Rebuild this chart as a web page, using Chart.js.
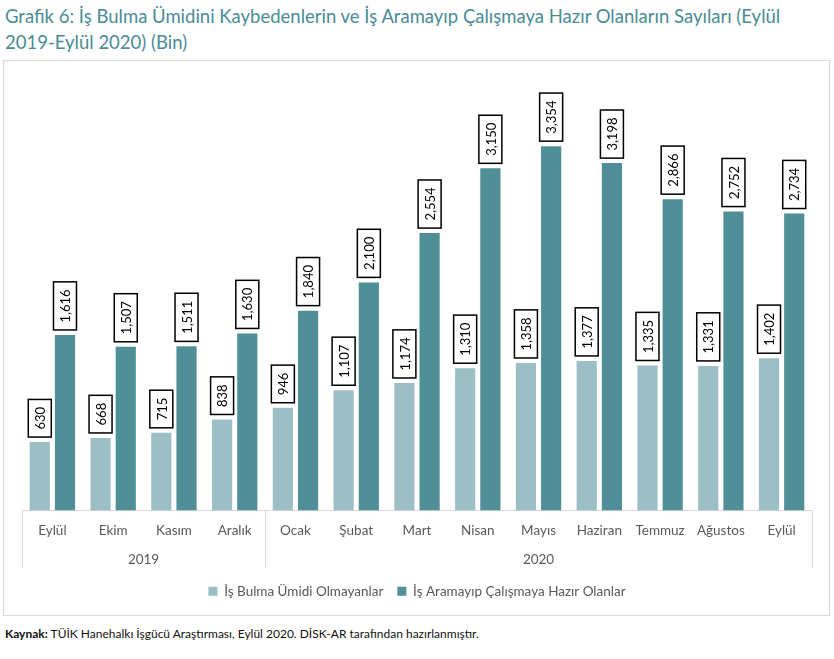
<!DOCTYPE html>
<html>
<head>
<meta charset="utf-8">
<script src="https://cdn.jsdelivr.net/npm/chart.js@4.4.0/dist/chart.umd.min.js"></script>
<style>
  body { margin: 0; background: #fff; font-family: Lato, sans-serif; }
  #title { position: absolute; left: 5px; top: 3px; width: 820px; color: #4a8c96; font-size: 18.5px; line-height: 26px; }
  #box { position: absolute; left: 3px; top: 60px; width: 825px; height: 554px; border: 1.5px solid #d9d9d9; }
  #src { position: absolute; left: 5px; top: 626px; font-size: 12px; color: #111; }
</style>
</head>
<body>
<div id="title">Grafik 6: İş Bulma Ümidini Kaybedenlerin ve İş Aramayıp Çalışmaya Hazır Olanların Sayıları (Eylül<br>2019-Eylül 2020) (Bin)</div>
<div id="box"><canvas id="chart" width="825" height="554"></canvas></div>
<div id="src"><b>Kaynak:</b> TÜİK Hanehalkı İşgücü Araştırması, Eylül 2020. DİSK-AR tarafından hazırlanmıştır.</div>
<script>
const months = ['Eylül', 'Ekim', 'Kasım', 'Aralık', 'Ocak', 'Şubat', 'Mart', 'Nisan', 'Mayıs', 'Haziran', 'Temmuz', 'Ağustos', 'Eylül'];
const years = ['2019', '2020'];
const yearCounts = [4, 9];
const umidiOlmayan = [630, 668, 715, 838, 946, 1107, 1174, 1310, 1358, 1377, 1335, 1331, 1402];
const hazirOlan = [1616, 1507, 1511, 1630, 1840, 2100, 2554, 3150, 3354, 3198, 2866, 2752, 2734];

// boxed, rotated value labels above every bar
const boxLabels = {
  id: 'boxLabels',
  afterDatasetsDraw(chart) {
    const ctx = chart.ctx;
    ctx.save();
    ctx.font = '13px Lato';
    ctx.lineWidth = 1.5;
    chart.data.datasets.forEach((ds, i) => {
      chart.getDatasetMeta(i).data.forEach((bar, j) => {
        const txt = ds.data[j].toLocaleString('en-US');
        const len = ctx.measureText(txt).width + 15;
        const w = 23;
        const bottom = bar.y - 5;
        ctx.fillStyle = '#fff';
        ctx.fillRect(bar.x - w / 2, bottom - len, w, len);
        ctx.strokeStyle = '#000';
        ctx.strokeRect(bar.x - w / 2, bottom - len, w, len);
        ctx.save();
        ctx.translate(bar.x, bottom - len / 2);
        ctx.rotate(-Math.PI / 2);
        ctx.fillStyle = '#000';
        ctx.textAlign = 'center';
        ctx.textBaseline = 'middle';
        ctx.fillText(txt, 0, 1);
        ctx.restore();
      });
    });
    ctx.restore();
  }
};

// second level of the category axis: years and separators
const yearAxis = {
  id: 'yearAxis',
  afterDraw(chart) {
    const x = chart.scales.x;
    const ctx = chart.ctx;
    const top = x.top, bottom = x.top + 58;
    const step = x.getPixelForValue(1) - x.getPixelForValue(0);
    ctx.save();
    ctx.strokeStyle = '#d9d9d9';
    ctx.lineWidth = 1;
    let start = 0;
    const edges = [x.getPixelForValue(0) - step / 2];
    yearCounts.forEach(c => { start += c; edges.push(x.getPixelForValue(start - 1) + step / 2); });
    edges.forEach(e => {
      ctx.beginPath(); ctx.moveTo(Math.round(e) + 0.5, top); ctx.lineTo(Math.round(e) + 0.5, bottom); ctx.stroke();
    });
    ctx.font = '13.5px Lato';
    ctx.fillStyle = '#595959';
    ctx.textAlign = 'center';
    ctx.textBaseline = 'middle';
    years.forEach((y, i) => ctx.fillText(y, (edges[i] + edges[i + 1]) / 2, top + 49));
    ctx.restore();
  }
};

new Chart(document.getElementById('chart'), {
  type: 'bar',
  data: {
    labels: months,
    datasets: [
      { label: 'İş Bulma Ümidi Olmayanlar', data: umidiOlmayan, backgroundColor: '#9bbfc5' },
      { label: 'İş Aramayıp Çalışmaya Hazır Olanlar', data: hazirOlan, backgroundColor: '#508f98' }
    ]
  },
  options: {
    responsive: false,
    animation: false,
    categoryPercentage: 0.83,
    barPercentage: 0.8,
    layout: { padding: { top: 15, left: 18, right: 17, bottom: 7 } },
    scales: {
      x: {
        grid: { display: false },
        border: { color: '#d9d9d9' },
        ticks: { color: '#595959', font: { family: 'Lato', size: 13.5 }, padding: 4, maxRotation: 0 },
        afterFit(scale) { scale.height = 60; }
      },
      y: { display: false, min: 0, max: 4000 }
    },
    plugins: {
      legend: {
        position: 'bottom',
        labels: { boxWidth: 9, boxHeight: 9, padding: 14, color: '#595959', font: { family: 'Lato', size: 13.5 } }
      },
      tooltip: { enabled: false }
    }
  },
  plugins: [boxLabels, yearAxis]
});
</script>
</body>
</html>
